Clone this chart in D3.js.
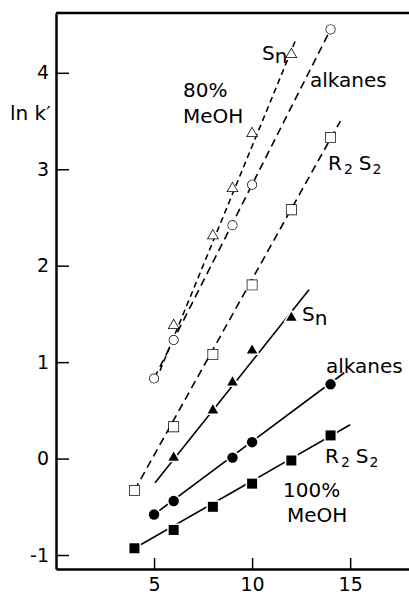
<!DOCTYPE html>
<html>
<head>
<meta charset="utf-8">
<title>ln k' vs n</title>
<style>
  body { margin: 0; background: #fff; }
  text { font-family: "DejaVu Sans", sans-serif; fill: #000; }
</style>
</head>
<body>
<script src="https://cdn.jsdelivr.net/npm/d3@7/dist/d3.min.js"></script>
<script>
// carbon / sulfur number on x, ln k' on y
var sn80X = [6, 8, 9, 10, 12];
var sn80Y = [1.38, 2.31, 2.80, 3.37, 4.19];
var alk80X = [5, 6, 9, 10, 14];
var alk80Y = [0.83, 1.23, 2.42, 2.84, 4.45];
var rs80X = [4, 6, 8, 10, 12, 14];
var rs80Y = [-0.33, 0.33, 1.08, 1.80, 2.58, 3.33];

var sn100X = [6, 8, 9, 10, 12];
var sn100Y = [0.01, 0.50, 0.79, 1.12, 1.46];
var alk100X = [5, 6, 9, 10, 14];
var alk100Y = [-0.58, -0.44, 0.01, 0.17, 0.77];
var rs100X = [4, 6, 8, 10, 12, 14];
var rs100Y = [-0.93, -0.74, -0.50, -0.26, -0.02, 0.24];

// ends of the drawn fit lines [x0, y0, x1, y1]
var sn80Line = [5.3, 0.91, 12.2, 4.33];
var alk80Line = [5, 0.83, 14, 4.45];
var rs80Line = [4, -0.33, 14.5, 3.5];
var sn100Line = [5.05, -0.25, 12.9, 1.75];
var alk100Line = [5, -0.58, 14.7, 0.89];
var rs100Line = [4, -0.93, 15, 0.35];

var xTicks = [5, 10, 15];
var yTicks = [-1, 0, 1, 2, 3, 4];

var width = 409, height = 594;
var svg = d3.select("body").append("svg")
    .attr("width", width)
    .attr("height", height);

var x = d3.scaleLinear().domain([0, 18]).range([56, 409]);
var y = d3.scaleLinear().domain([-1.145, 4.62]).range([569, 13]);

// frame: top line
svg.append("line")
    .attr("x1", x(0)).attr("x2", x(18))
    .attr("y1", y(4.62)).attr("y2", y(4.62))
    .attr("stroke", "#000").attr("stroke-width", 2.5);

var xAxis = svg.append("g")
    .attr("transform", "translate(0," + y(-1.145) + ")")
    .call(d3.axisBottom(x).tickValues(xTicks).tickSizeInner(-11).tickSizeOuter(0).tickPadding(9).tickFormat(d => String(d)));
var yAxis = svg.append("g")
    .attr("transform", "translate(" + x(0) + ",0)")
    .call(d3.axisLeft(y).tickValues(yTicks).tickSizeInner(-13).tickSizeOuter(0).tickPadding(7).tickFormat(d => d < 0 ? "-" + Math.abs(d) : String(d)));

[xAxis, yAxis].forEach(function(g){
    g.select(".domain").attr("stroke-width", 2.5);
    g.selectAll(".tick line").attr("stroke-width", 1.5);
    g.selectAll(".tick text").attr("font-size", 19).attr("font-family", "DejaVu Sans");
});

// fit lines
function drawLine(l, dash){
    svg.append("line")
        .attr("x1", x(l[0])).attr("y1", y(l[1]))
        .attr("x2", x(l[2])).attr("y2", y(l[3]))
        .attr("stroke", "#000")
        .attr("stroke-width", 1.6)
        .attr("stroke-dasharray", dash);
}
drawLine(sn80Line, "6,4");
drawLine(alk80Line, "8,5");
drawLine(rs80Line, "8,5");
drawLine(sn100Line, null);
drawLine(alk100Line, null);
drawLine(rs100Line, null);

// markers
function drawPts(xs, ys, type, size, filled){
    svg.append("g").selectAll("path")
        .data(xs.map((d, i) => [d, ys[i]]))
        .join("path")
        .attr("transform", d => "translate(" + x(d[0]) + "," + y(d[1]) + ")")
        .attr("d", d3.symbol().type(type).size(size))
        .attr("fill", filled ? "#000" : "#fff")
        .attr("stroke", filled ? "#fff" : "#000")
        .attr("stroke-width", filled ? 3 : 1.4)
        .style("paint-order", "stroke");
}
drawPts(sn80X, sn80Y, d3.symbolTriangle, 40, false);
drawPts(alk80X, alk80Y, d3.symbolCircle, 58, false);
drawPts(rs80X, rs80Y, d3.symbolSquare, 88, false);
drawPts(sn100X, sn100Y, d3.symbolTriangle, 48, true);
drawPts(alk100X, alk100Y, d3.symbolCircle, 85, true);
drawPts(rs100X, rs100Y, d3.symbolSquare, 100, true);

// labels
function label(px, py, parts){
    var t = svg.append("text").attr("x", px).attr("y", py).attr("font-size", 20);
    parts.forEach(function(p){
        var s = t.append("tspan").text(p[0]);
        if (p[1]) s.attr("font-size", p[1]);
        if (p[2]) s.attr("dy", p[2]);
        if (p[3] !== undefined) s.attr("dx", p[3]);
    });
    return t;
}
label(10, 120, [["ln k\u2032"]]);
label(262, 60, [["S"], ["n", null, 3]]);
label(310, 87, [["alkanes"]]);
label(183, 97, [["80%"]]);
label(183, 123, [["MeOH"]]);
label(328, 170, [["R"], ["2", 14, 4, 2], ["S", null, -4, 6], ["2", 14, 4, 1]]);
label(302, 321, [["S"], ["n", null, 4]]);
label(326, 373, [["alkanes"]]);
label(325, 463, [["R"], ["2", 14, 4, 2], ["S", null, -4, 6], ["2", 14, 4, 1]]);
label(283, 497, [["100%"]]);
label(287, 522, [["MeOH"]]);
</script>
</body>
</html>
